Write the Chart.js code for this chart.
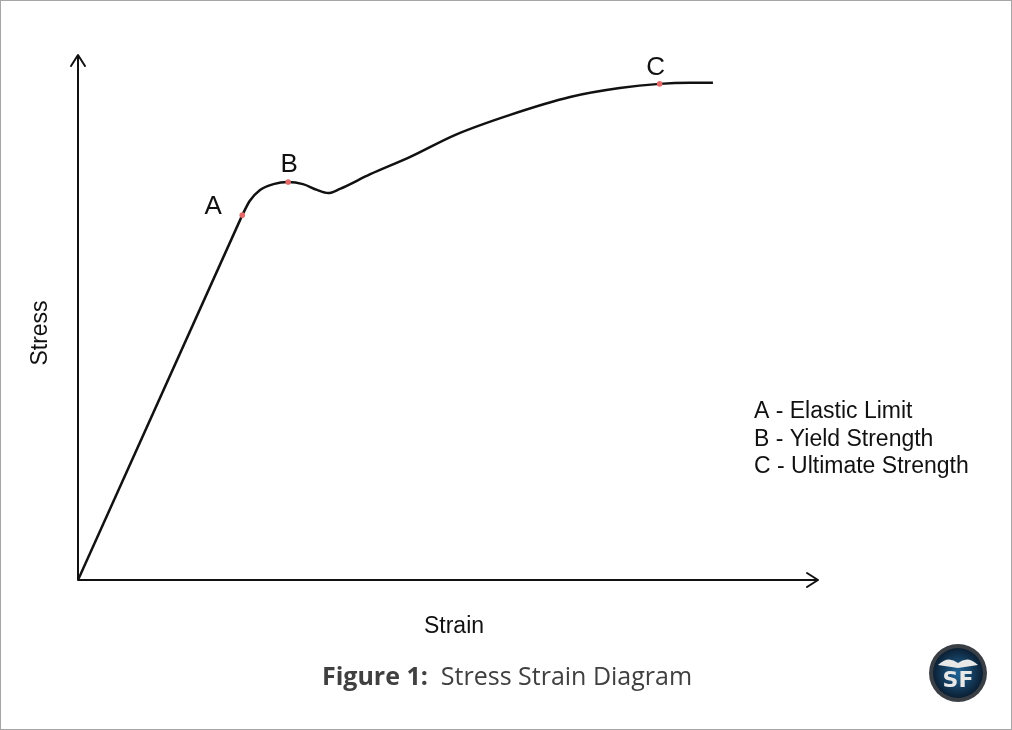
<!DOCTYPE html>
<html>
<head>
<meta charset="utf-8">
<script src="https://cdn.jsdelivr.net/npm/chart.js@4/dist/chart.umd.min.js"></script>
<style>
  html, body { margin: 0; padding: 0; background: #fff; }
  #wrap { width: 1012px; height: 730px; position: relative; }
</style>
</head>
<body>
<div id="wrap"><canvas id="chart" width="1012" height="730"></canvas></div>
<script>
// stress-strain curve, arbitrary units (0-100 on both axes)
const elasticStrain = [0, 22.2];
const elasticStress = [0, 69.5];

const plasticStrain = [22.2, 23.2, 24.6, 26.4, 28.4, 30.4, 32.3, 33.8, 35.4, 39.5, 44.9, 51.0, 58.4, 66.5, 73.2, 78.6, 82.7, 85.8];
const plasticStress = [69.5, 72.2, 74.3, 75.4, 75.8, 75.4, 74.3, 73.7, 74.5, 77.3, 80.6, 84.8, 88.6, 92.0, 93.7, 94.5, 94.7, 94.7];

const markLabels = ['A', 'B', 'C'];
const markStrain = [22.2, 28.4, 78.6];
const markStress = [69.5, 75.8, 94.5];

const legendLines = ['A - Elastic Limit', 'B - Yield Strength', 'C - Ultimate Strength'];

const toXY = (xs, ys) => xs.map((x, i) => ({ x: x, y: ys[i] }));

const sans = '"Liberation Sans", Arial, sans-serif';

const decorPlugin = {
    id: 'decor',
    afterDraw(chart) {
        const c = chart.ctx;
        const xs = chart.scales.x, ys = chart.scales.y;
        const x0 = xs.getPixelForValue(0), y0 = ys.getPixelForValue(0);
        const xEnd = xs.getPixelForValue(100), yEnd = ys.getPixelForValue(100);

        c.save();
        // frame
        c.strokeStyle = '#a6a6a6';
        c.lineWidth = 1;
        c.strokeRect(0.5, 0.5, chart.width - 1, chart.height - 1);

        // axes with open arrowheads
        c.strokeStyle = '#111';
        c.lineWidth = 2;
        c.lineCap = 'round';
        c.lineJoin = 'round';
        c.beginPath();
        c.moveTo(x0, y0); c.lineTo(x0, yEnd + 1);
        c.moveTo(x0, y0); c.lineTo(xEnd - 1, y0);
        c.stroke();
        c.beginPath();
        c.moveTo(x0 - 7, yEnd + 11); c.lineTo(x0, yEnd); c.lineTo(x0 + 7, yEnd + 11);
        c.moveTo(xEnd - 11, y0 - 7); c.lineTo(xEnd, y0); c.lineTo(xEnd - 11, y0 + 7);
        c.stroke();

        // point letters
        c.fillStyle = '#111';
        c.font = '26px ' + sans;
        c.textAlign = 'center';
        c.textBaseline = 'middle';
        const offs = [[-29, -8], [1, -17], [-4, -16]];
        markLabels.forEach((t, i) => {
            const px = xs.getPixelForValue(markStrain[i]);
            const py = ys.getPixelForValue(markStress[i]);
            c.fillText(t, px + offs[i][0], py + offs[i][1]);
        });

        // axis titles
        c.font = '23px ' + sans;
        c.fillText('Strain', 454, 627);
        c.save();
        c.translate(41, 333);
        c.rotate(-Math.PI / 2);
        c.fillText('Stress', 0, 0);
        c.restore();

        // key
        c.textAlign = 'left';
        c.font = '23px ' + sans;
        legendLines.forEach((t, i) => c.fillText(t, 754, 412 + i * 27.5));

        // caption
        c.fillStyle = '#404040';
        c.textBaseline = 'middle';
        const bold = 'Figure 1:  ';
        const rest = 'Stress Strain Diagram';
        c.font = 'bold 25px "Open Sans", sans-serif';
        const bw = c.measureText(bold).width;
        c.font = '25px "Open Sans", sans-serif';
        const rw = c.measureText(rest).width;
        const startX = 507 - (bw + rw) / 2;
        c.font = 'bold 25px "Open Sans", sans-serif';
        c.fillText(bold, startX, 678);
        c.font = '25px "Open Sans", sans-serif';
        c.fillText(rest, startX + bw, 678);

        // badge
        const cx = 958, cy = 673;
        c.beginPath();
        c.arc(cx, cy, 29, 0, Math.PI * 2);
        c.fillStyle = '#3a3f46';
        c.fill();
        c.beginPath();
        c.arc(cx, cy, 25, 0, Math.PI * 2);
        const g = c.createRadialGradient(cx, cy, 3, cx, cy, 25);
        g.addColorStop(0, '#1f5f8f');
        g.addColorStop(1, '#0b1f33');
        c.fillStyle = g;
        c.fill();
        c.fillStyle = '#e8e8e8';
        c.beginPath();
        c.moveTo(cx - 20, cy - 8); c.quadraticCurveTo(cx - 10, cy - 18, cx, cy - 10);
        c.quadraticCurveTo(cx + 10, cy - 18, cx + 20, cy - 8);
        c.lineTo(cx, cy - 5); c.closePath();
        c.fill();
        c.font = 'bold 22px "DejaVu Sans", sans-serif';
        c.textAlign = 'center';
        c.fillText('SF', cx, cy + 8);
        c.restore();
    }
};

new Chart(document.getElementById('chart'), {
    type: 'line',
    data: {
        datasets: [
            {
                data: toXY(elasticStrain, elasticStress),
                borderColor: '#111',
                borderWidth: 2.5,
                pointRadius: 0,
                tension: 0,
                order: 2
            },
            {
                data: toXY(plasticStrain, plasticStress),
                borderColor: '#111',
                borderWidth: 2.5,
                pointRadius: 0,
                cubicInterpolationMode: 'monotone',
                order: 2
            },
            {
                data: toXY(markStrain, markStress),
                showLine: false,
                pointRadius: 2.8,
                pointBorderWidth: 0,
                pointBackgroundColor: '#e46a6a',
                order: 0
            }
        ]
    },
    options: {
        responsive: false,
        animation: false,
        events: [],
        layout: { padding: { left: 78, right: 194, top: 55, bottom: 150 } },
        plugins: { legend: { display: false }, tooltip: { enabled: false } },
        scales: {
            x: { type: 'linear', min: 0, max: 100, display: false },
            y: { type: 'linear', min: 0, max: 100, display: false }
        }
    },
    plugins: [decorPlugin]
});
</script>
</body>
</html>
